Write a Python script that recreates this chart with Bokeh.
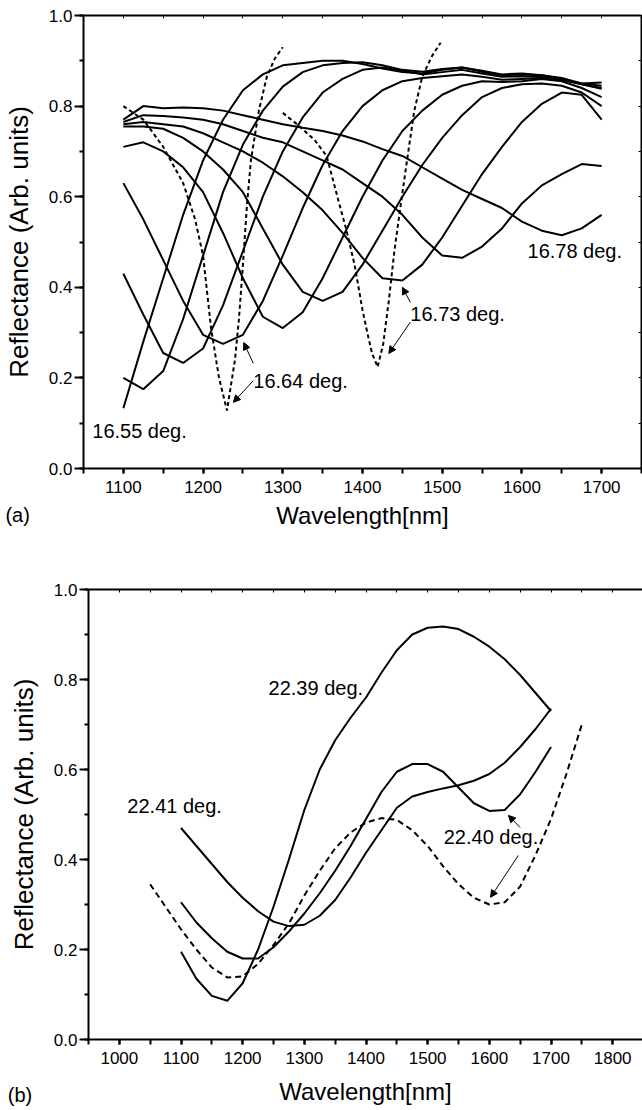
from bokeh.plotting import figure
from bokeh.layouts import column
from bokeh.models import (Range1d, LinearAxis, SingleIntervalTicker, FixedTicker, Label, Arrow,
                          NormalHead, PrintfTickFormatter)
from bokeh.embed import file_html
from bokeh.resources import INLINE

FONT = "Liberation Sans"

# ---------------- data: panel (a) ----------------
wl_a = [1100, 1125, 1150, 1175, 1200, 1225, 1250, 1275, 1300, 1325, 1350, 1375, 1400,
        1425, 1450, 1475, 1500, 1525, 1550, 1575, 1600, 1625, 1650, 1675, 1700]
a_16_55 = [.133, .28, .42, .56, .68, .77, .835, .87, .89, .895, .90, .90, .893, .883, .875,
           .872, .88, .885, .878, .87, .872, .868, .86, .848, .838]
a_2 = [.20, .175, .215, .33, .47, .61, .715, .79, .843, .875, .89, .895, .897, .89, .88,
       .876, .882, .885, .876, .868, .87, .868, .862, .85, .845]
a_3 = [.43, .34, .255, .233, .265, .36, .48, .60, .70, .775, .83, .86, .88, .885, .878,
       .87, .875, .88, .872, .865, .866, .864, .858, .85, .852]
a_4 = [.63, .55, .46, .37, .295, .275, .295, .37, .47, .575, .67, .745, .80, .835, .855,
       .862, .866, .87, .865, .858, .86, .862, .858, .848, .84]
a_5 = [.71, .72, .70, .665, .61, .52, .42, .335, .31, .345, .42, .51, .60, .68, .745,
       .79, .825, .845, .855, .853, .855, .86, .855, .84, .82]
a_6 = [.755, .755, .75, .73, .70, .66, .61, .53, .45, .39, .37, .39, .45, .525, .60,
       .67, .73, .78, .82, .84, .848, .85, .845, .83, .80]
a_16_73 = [.76, .765, .76, .755, .74, .72, .70, .675, .645, .61, .57, .52, .465, .42, .415,
           .45, .51, .58, .65, .71, .765, .805, .83, .825, .77]
a_8 = [.765, .78, .778, .775, .77, .76, .745, .73, .72, .70, .68, .66, .63, .60, .56,
       .51, .47, .465, .49, .53, .585, .625, .65, .672, .668]
a_16_78 = [.77, .80, .795, .797, .795, .79, .78, .77, .76, .752, .745, .735, .722, .705, .69,
           .665, .64, .615, .595, .575, .545, .525, .515, .53, .56]
a_solid = [a_16_55, a_2, a_3, a_4, a_5, a_6, a_16_73, a_8, a_16_78]

# dashed curves (16.64 deg. and 16.73 deg.)
dash_a1_wl = [1100, 1125, 1150, 1175, 1190, 1200, 1210, 1220, 1230, 1240, 1245, 1250,
              1255, 1260, 1270, 1280, 1290, 1300]
dash_a1_r = [.80, .77, .71, .63, .55, .47, .31, .20, .128, .24, .33, .45,
             .58, .68, .79, .865, .905, .93]
dash_a2_wl = [1300, 1320, 1340, 1355, 1370, 1380, 1390, 1400, 1406, 1412, 1419, 1426,
              1433, 1440, 1447, 1455, 1465, 1475, 1487, 1498]
dash_a2_r = [.785, .757, .725, .69, .59, .525, .45, .35, .30, .254, .224, .275,
             .37, .48, .57, .67, .79, .865, .91, .94]

# ---------------- data: panel (b) ----------------
wl_b = [1100, 1125, 1150, 1175, 1200, 1225, 1250, 1275, 1300, 1325, 1350, 1375, 1400,
        1425, 1450, 1475, 1500, 1525, 1550, 1575, 1600, 1625, 1650, 1675, 1700]
b_22_39 = [.195, .135, .097, .086, .125, .20, .295, .40, .51, .60, .665, .715, .76,
           .815, .865, .90, .915, .918, .912, .895, .873, .845, .81, .77, .73]
b_22_41 = [.47, .43, .39, .35, .315, .285, .262, .252, .255, .275, .31, .36, .415,
           .465, .515, .54, .55, .558, .565, .575, .59, .615, .65, .69, .735]
b_mid = [.305, .26, .225, .195, .18, .18, .205, .24, .28, .325, .375, .43, .49,
         .55, .595, .612, .612, .595, .56, .525, .508, .51, .545, .595, .65]
b_solid = [b_22_39, b_22_41, b_mid]
dash_b_wl = [1050, 1075, 1100, 1125, 1150, 1175, 1200, 1225, 1250, 1275, 1300, 1325, 1350,
             1375, 1400, 1425, 1450, 1475, 1500, 1525, 1550, 1575, 1600, 1625, 1650, 1675,
             1700, 1725, 1750]
dash_b_r = [.345, .295, .245, .20, .16, .138, .14, .168, .21, .258, .32, .375, .425,
            .46, .482, .492, .488, .465, .43, .385, .345, .315, .30, .305, .34, .41,
            .49, .59, .70]

# axis extents (data units) and tick positions of the frame sides
xa_bounds = (1050, 1750)
xb_bounds = (950, 1850)
y_bounds = (0, 1.0)
top_ticks_a = list(range(1050, 1751, 50))
top_ticks_b = list(range(950, 1851, 50))
right_ticks_a = [i / 10 for i in range(11)]

# canvas geometry: axes box inside each canvas (pixels)
W = 642
HA, HB = 555, 555
A_BOX = dict(left=83, right=641, top=15, bottom=468)
B_BOX = dict(left=88, right=643, top=34, bottom=484)


def canvas_ranges(xb, box, h):
    kx = (box["right"] - box["left"]) / (xb[1] - xb[0])
    ky = (box["bottom"] - box["top"]) / (y_bounds[1] - y_bounds[0])
    x0 = xb[0] - box["left"] / kx
    x1 = xb[0] + (W - box["left"]) / kx
    y1 = y_bounds[1] + box["top"] / ky
    y0 = y_bounds[0] - (h - box["bottom"]) / ky
    return Range1d(x0, x1), Range1d(y0, y1)


def make_fig(xb, box, h, xlabel_standoff):
    xr, yr = canvas_ranges(xb, box, h)
    p = figure(width=W, height=h, x_range=xr, y_range=yr,
               output_backend="svg", toolbar_location=None,
               min_border_left=0, min_border_right=0, min_border_top=0, min_border_bottom=0,
               x_axis_label="Wavelength[nm]", y_axis_label="Reflectance (Arb. units)")
    p.xgrid.visible = False
    p.ygrid.visible = False
    p.outline_line_color = None
    p.background_fill_color = "white"
    p.border_fill_color = "white"

    xa = p.xaxis[0]
    xa.fixed_location = y_bounds[0]
    xa.bounds = xb
    xa.ticker = SingleIntervalTicker(interval=100, num_minor_ticks=2)
    xa.major_tick_out = 5
    xa.major_tick_in = 0
    xa.minor_tick_out = 5
    xa.minor_tick_in = 0
    xa.major_label_standoff = 7
    xa.axis_label_standoff = xlabel_standoff
    xa.axis_label_text_font_size = "24px"

    ya = p.yaxis[0]
    ya.fixed_location = xb[0]
    ya.bounds = y_bounds
    ya.ticker = SingleIntervalTicker(interval=0.2, num_minor_ticks=2)
    ya.formatter = PrintfTickFormatter(format="%.1f")
    ya.major_tick_out = 9
    ya.major_tick_in = 0
    ya.minor_tick_out = 4
    ya.minor_tick_in = 0
    ya.major_label_standoff = 2
    ya.axis_label_standoff = 12
    ya.axis_label_text_font_size = "26px"

    for ax in (xa, ya):
        ax.axis_line_width = 2
        ax.major_tick_line_width = 2
        ax.minor_tick_line_width = 2
        ax.major_label_text_font = FONT
        ax.major_label_text_font_size = "17px"
        ax.major_label_text_color = "black"
        ax.axis_label_text_font = FONT
        ax.axis_label_text_font_style = "normal"
        ax.axis_label_text_color = "black"
    return p


def frame_axis(p, place, ticks, loc, bounds):
    ax = LinearAxis(ticker=FixedTicker(ticks=[], minor_ticks=ticks),
                    fixed_location=loc, bounds=bounds,
                    major_tick_in=0, major_tick_out=0, minor_tick_in=3, minor_tick_out=0,
                    axis_line_width=2, minor_tick_line_width=1)
    p.add_layout(ax, place)


def label(p, x, y, text, size="20px"):
    p.add_layout(Label(x=x, y=y, text=text, text_font=FONT, text_font_size=size,
                       text_baseline="middle", text_align="left", text_color="black"))


def arrow(p, x0, y0, x1, y1):
    p.add_layout(Arrow(end=NormalHead(size=7, line_width=1, line_color="black",
                                      fill_color="black"),
                       x_start=x0, y_start=y0, x_end=x1, y_end=y1,
                       line_width=1, line_color="black"))


# ---------------- panel (a) ----------------
pa = make_fig(xa_bounds, A_BOX, HA, 6)
for r in a_solid:
    pa.line(wl_a, r, line_color="black", line_width=2)
pa.line(dash_a1_wl, dash_a1_r, line_color="black", line_width=2, line_dash="4 3")
pa.line(dash_a2_wl, dash_a2_r, line_color="black", line_width=2, line_dash="4 3")
frame_axis(pa, "above", top_ticks_a, y_bounds[1], xa_bounds)
frame_axis(pa, "right", right_ticks_a, xa_bounds[1], y_bounds)

label(pa, 1061, 0.082, "16.55 deg.")
label(pa, 1263, 0.194, "16.64 deg.")
label(pa, 1460, 0.342, "16.73 deg.")
label(pa, 1607, 0.48, "16.78 deg.")
arrow(pa, 1263, 0.232, 1251, 0.278)
arrow(pa, 1263, 0.194, 1238, 0.146)
arrow(pa, 1460, 0.367, 1450, 0.40)
arrow(pa, 1460, 0.323, 1433, 0.254)
label(pa, 952, -0.102, "(a)")

# ---------------- panel (b) ----------------
pb = make_fig(xb_bounds, B_BOX, HB, 11)
for r in b_solid:
    pb.line(wl_b, r, line_color="black", line_width=2)
pb.line(dash_b_wl, dash_b_r, line_color="black", line_width=2, line_dash="6 4")
frame_axis(pb, "above", top_ticks_b, y_bounds[1], xb_bounds)

label(pb, 1242, 0.782, "22.39 deg.")
label(pb, 1013, 0.52, "22.41 deg.")
label(pb, 1526, 0.45, "22.40 deg.")
arrow(pb, 1650, 0.471, 1631, 0.498)
arrow(pb, 1647, 0.409, 1602, 0.316)
label(pb, 819, -0.124, "(b)")

layout = column(pa, pb, spacing=0)
open("out.html", "w").write(file_html(layout, INLINE))
